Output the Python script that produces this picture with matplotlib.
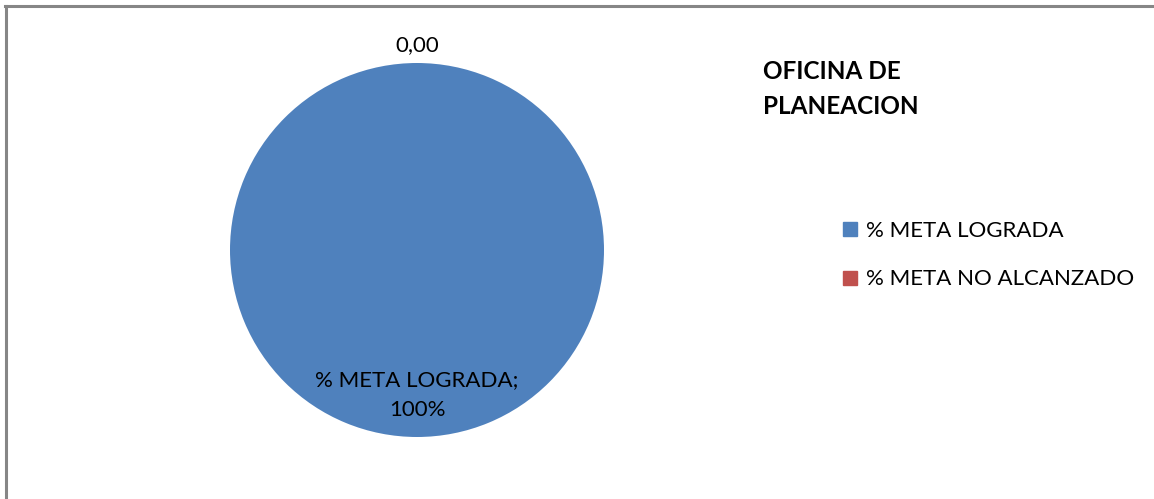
import matplotlib
matplotlib.use("Agg")
import matplotlib.pyplot as plt
from matplotlib.lines import Line2D

plt.rcParams["font.family"] = ["Lato", "DejaVu Sans"]

# data
categories = ["% META LOGRADA", "% META NO ALCANZADO"]
values = [100.0, 0.0]
colors = ["#4F81BD", "#C0504D"]
title = "OFICINA DE\nPLANEACION"

W, H = 1154, 499
fig = plt.figure(figsize=(W / 100, H / 100), dpi=100)

# pie axes: centre (417, 250) px, radius 187 px
cx, cy, r = 417, 250, 187
ax = fig.add_axes([(cx - r) / W, (H - cy - r) / H, 2 * r / W, 2 * r / H])
wedges, _ = ax.pie(values, colors=colors, startangle=90, counterclock=False,
                   radius=1.0, wedgeprops=dict(linewidth=0))
ax.set_xlim(-1, 1)
ax.set_ylim(-1, 1)
ax.set_aspect("equal")
ax.axis("off")

# data labels (Excel style)
total = sum(values)
ax.text(0, 1.096, f"{values[1]:.2f}".replace(".", ","), ha="center", va="center",
        fontsize=16, color="#000000")
ax.text(0, -0.775, f"{categories[0]};\n{values[0] / total:.0%}", ha="center",
        va="center", fontsize=16, color="#000000", linespacing=1.65)

# title
fig.text(763 / W, 1 - 89 / H, title, ha="left", va="center", fontsize=17.5,
         fontweight="bold", linespacing=1.6)

# legend
handles = [Line2D([], [], marker="s", linestyle="none", markersize=9.5,
                  markerfacecolor=c, markeredgecolor=c) for c in colors]
fig.legend(handles, categories, loc="upper left",
           bbox_to_anchor=(833 / W, 1 - 212 / H), frameon=False, fontsize=16,
           handlelength=0.75, handletextpad=0.33, labelspacing=1.28,
           borderaxespad=0)

# chart-area border (top and left edges visible)
fig.add_artist(Line2D([6 / W, 6 / W], [0, 1 - 6 / H], transform=fig.transFigure,
                      color="#868686", linewidth=2.2))
fig.add_artist(Line2D([5 / W, 1], [1 - 6 / H, 1 - 6 / H], transform=fig.transFigure,
                      color="#868686", linewidth=2.2))

fig.savefig("out.png", dpi=100)
